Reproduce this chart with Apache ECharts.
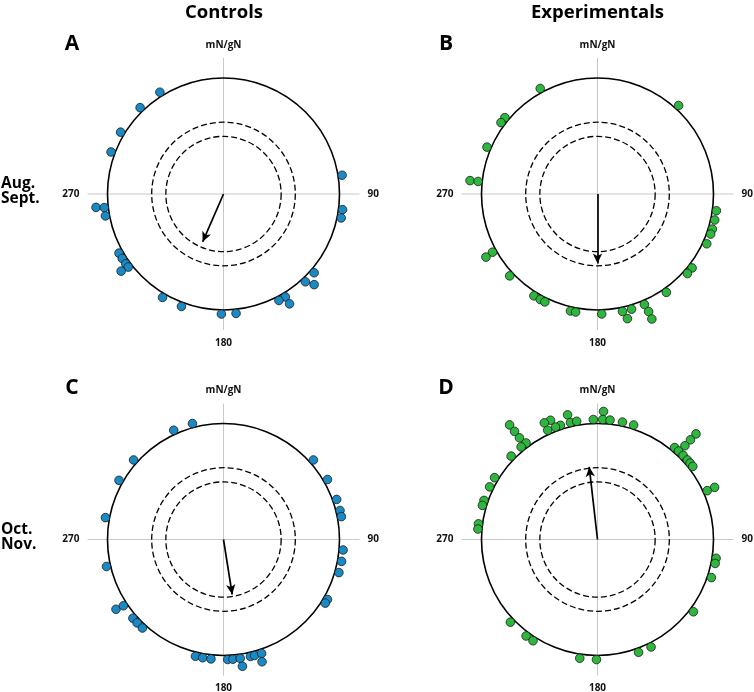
<!DOCTYPE html>
<html>
<head>
<meta charset="utf-8">
<script src="https://cdn.jsdelivr.net/npm/echarts@6/dist/echarts.min.js"></script>
<style>
html,body{margin:0;padding:0;background:#fff;}
#chart{width:754px;height:692px;}
</style>
</head>
<body>
<div id="chart"></div>
<script>
// ---- data (compass degrees, 0 = top, clockwise) ----
const columnTitles = ['Controls', 'Experimentals'];
const rowTitles = ['Aug.\nSept.', 'Oct.\nNov.'];
const panelLetters = ['A', 'B', 'C', 'D'];
const tickLabels = {0: 'mN/gN', 90: '90', 180: '180', 270: '270'};

const anglesA = [328, 316, 301, 290.5, 81, 264, 263.5, 259.5, 97.5, 101.5, 240.5, 237.5, 234.5, 232.5, 233, 131, 137, 135, 149, 152.5, 149, 210.5, 200.5, 181, 174];
const stackA  = [1, 1, 1, 1, 1, 2, 1, 1, 1, 1, 1, 1, 1, 1, 2, 1, 1, 2, 1, 1, 2, 1, 1, 1, 1];

const anglesB = [331.5, 42.5, 309.5, 306.5, 293, 276, 276, 98, 102.5, 107, 109.5, 114.5, 241, 240.5, 128, 131.5, 227, 145, 212, 208.5, 206, 193, 190.5, 178, 168, 163.5, 166.5, 157, 156.5, 156.5];
const stackB  = [1, 1, 1, 1, 1, 2, 1, 1, 1, 1, 1, 1, 1, 2, 1, 1, 1, 1, 1, 1, 1, 1, 1, 1, 1, 1, 2, 1, 2, 3];

const anglesC = [345, 335.5, 311.5, 299.5, 280.5, 257, 237, 236.5, 229, 226, 222.5, 48.5, 60, 70.5, 76, 79, 95, 100.5, 106, 120, 122, 193.5, 190, 186, 178, 175.5, 172, 171.5, 167, 165, 161.5, 162.5];
const stackC  = [1, 1, 1, 1, 1, 1, 2, 1, 1, 1, 1, 1, 1, 1, 1, 1, 1, 1, 1, 1, 1, 1, 1, 1, 1, 1, 1, 2, 1, 1, 1, 2];

const anglesD = [2.7, 358, 2.5, 6, 12, 17.5, 346.5, 347, 350, 342, 339.5, 338.5, 335.5, 335.5, 322.5, 322.5, 322.5, 323.5, 320.5, 314, 301, 296, 289, 286.5, 277.5, 275, 43, 43, 43, 40, 42.5, 45.5, 48.5, 50.5, 52.5, 66, 66, 99, 101.5, 108.5, 127, 153.5, 160, 226.5, 216.5, 212.5, 188.5, 180.5];
const stackD  = [2, 1, 1, 1, 1, 1, 2, 1, 1, 1, 1, 2, 2, 1, 4, 3, 2, 1, 1, 1, 1, 1, 1, 1, 1, 1, 4, 3, 2, 1, 1, 1, 1, 1, 1, 2, 1, 1, 1, 1, 1, 1, 1, 1, 1, 1, 1, 1];

const meanAngles  = [203.5, 180, 171, 353.5];
const meanLengths = [0.45, 0.60, 0.48, 0.63];

// ---- layout / style ----
const panels = [
  {angles: anglesA, stack: stackA, color: '#1a8ac6', center: [223.5, 194]},
  {angles: anglesB, stack: stackB, color: '#2db83d', center: [597.5, 194]},
  {angles: anglesC, stack: stackC, color: '#1a8ac6', center: [223.5, 539.5]},
  {angles: anglesD, stack: stackD, color: '#2db83d', center: [597.5, 539.5]}
];
const R = 116;       // px radius of unit circle
const RO = 136;      // px radius of cross-hair
const DASH_OUT = 0.619, DASH_IN = 0.497;
const L1 = 1.035, STEP = 0.07;
const FONT = '"Open Sans", "Noto Sans", sans-serif';

const polar = [], angleAxis = [], radiusAxis = [], series = [];
panels.forEach((p, k) => {
  const base = polar.length;
  polar.push({center: p.center, radius: RO});
  polar.push({center: p.center, radius: R});
  polar.push({center: p.center, radius: R * DASH_OUT});
  polar.push({center: p.center, radius: R * DASH_IN});
  // main axis: cross hair and labels
  angleAxis.push({
    polarIndex: base, type: 'value', min: 0, max: 360, interval: 90, startAngle: 90, clockwise: true,
    axisLine: {show: false}, axisTick: {show: false},
    splitLine: {show: true, lineStyle: {color: '#c8c8c8', width: 1}},
    axisLabel: {show: true, margin: 8, color: '#111', fontFamily: FONT, fontWeight: 'bold', fontSize: 10,
      formatter: v => (v === 360 ? '' : (tickLabels[v] || ''))}
  });
  radiusAxis.push({polarIndex: base, type: 'value', min: 0, max: RO / R, show: false,
    axisLine: {show: false}, axisLabel: {show: false}, axisTick: {show: false}, splitLine: {show: false}});
  const ring = (idx, lineStyle) => {
    angleAxis.push({polarIndex: idx, type: 'value', min: 0, max: 360, startAngle: 90,
      axisLine: {show: true, lineStyle}, axisTick: {show: false}, axisLabel: {show: false}, splitLine: {show: false}});
    radiusAxis.push({polarIndex: idx, type: 'value', min: 0, max: 1, show: false,
      axisLine: {show: false}, axisLabel: {show: false}, axisTick: {show: false}, splitLine: {show: false}});
  };
  ring(base + 1, {color: '#000', width: 1.6});
  ring(base + 2, {color: '#000', width: 1.3, type: [6, 3]});
  ring(base + 3, {color: '#000', width: 1.3, type: [6, 3]});

  series.push({
    type: 'scatter', coordinateSystem: 'polar', polarIndex: base, clip: false,
    symbol: 'circle', symbolSize: 8.6, z: 5,
    itemStyle: {color: p.color, borderColor: '#1a1a1a', borderWidth: 0.8, opacity: 1},
    data: p.angles.map((a, i) => [L1 + (p.stack[i] - 1) * STEP, a]),
    markLine: {
      silent: true, symbol: ['none', 'arrow'], symbolSize: [7, 10], animation: false,
      lineStyle: {color: '#000', width: 1.7, type: 'solid'},
      label: {show: false},
      data: [[{coord: [0, meanAngles[k]]}, {coord: [meanLengths[k], meanAngles[k]]}]]
    }
  });
});

const txt = (text, x, y, size, align) => ({
  type: 'text', x, y, z: 10,
  style: {text, fill: '#000', font: 'bold ' + size + 'px ' + FONT,
    align: align || 'center', textAlign: align || 'center',
    verticalAlign: 'middle', textVerticalAlign: 'middle', lineHeight: size}
});

const graphic = [
  txt(columnTitles[0], 224, 13, 18.5),
  txt(columnTitles[1], 597.5, 13, 18.5),
  txt(panelLetters[0], 72, 44, 21),
  txt(panelLetters[1], 446, 44, 21),
  txt(panelLetters[2], 72, 388, 21),
  txt(panelLetters[3], 446, 388, 21),
  txt(rowTitles[0], 1, 191, 15.5, 'left'),
  txt(rowTitles[1], 1, 537, 15.5, 'left')
];

const chart = echarts.init(document.getElementById('chart'), null, {renderer: 'canvas'});
chart.setOption({
  animation: false,
  backgroundColor: '#fff',
  polar, angleAxis, radiusAxis, series, graphic
});
</script>
</body>
</html>
